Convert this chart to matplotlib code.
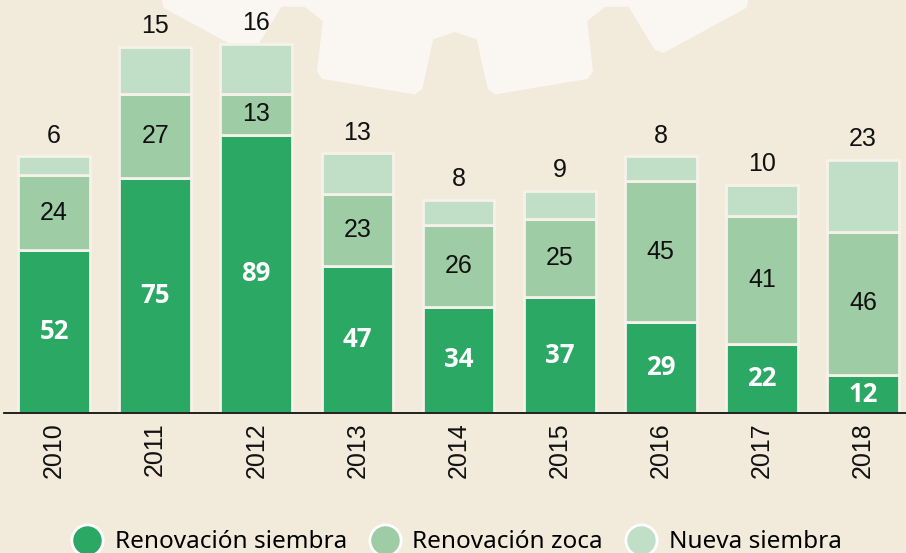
import numpy as np
import matplotlib
matplotlib.use("Agg")
import matplotlib.pyplot as plt
from matplotlib.lines import Line2D
from matplotlib.patches import Polygon

years = ["2010", "2011", "2012", "2013", "2014", "2015", "2016", "2017", "2018"]
renov_siembra = [52, 75, 89, 47, 34, 37, 29, 22, 12]
renov_zoca = [24, 27, 13, 23, 26, 25, 45, 41, 46]
nueva_siembra = [6, 15, 16, 13, 8, 9, 8, 10, 23]

series_names = ["Renovación siembra", "Renovación zoca", "Nueva siembra"]
colors = ["#2aa864", "#9ecca4", "#c1dfc6"]
BG = "#f2eadb"
W, H = 906, 553

fig = plt.figure(figsize=(W / 100, H / 100), dpi=100, facecolor=BG)

# faint gear decoration in the background
cx, cy = 455, -430
r_in, r_out = 462, 526
pitch = np.deg2rad(19)
pts = []
for k in range(-10, 11):
    c = np.pi / 2 + (k + 0.5) * pitch
    for a, r in [(c - 0.5 * pitch, r_in), (c - 0.36 * pitch, r_in + 8),
                 (c - 0.31 * pitch, r_out - 6), (c - 0.27 * pitch, r_out),
                 (c + 0.27 * pitch, r_out), (c + 0.31 * pitch, r_out - 6),
                 (c + 0.36 * pitch, r_in + 8)]:
        pts.append((cx + r * np.cos(a), cy + r * np.sin(a)))
pts = [(px / W, 1 - py / H) for px, py in pts]
fig.patches.append(Polygon(pts, closed=True, transform=fig.transFigure,
                           facecolor="#faf6f1", edgecolor="none", zorder=0))

ax = fig.add_axes([4 / W, 140 / H, (W - 4) / W, 413 / H])
ax.set_facecolor("none")
ax.set_zorder(2)

x = np.arange(len(years))
bw = 0.71
edge = "#f6f2ea"
ax.bar(x, renov_siembra, bw, color=colors[0], edgecolor=edge, linewidth=2)
ax.bar(x, renov_zoca, bw, bottom=renov_siembra, color=colors[1],
       edgecolor=edge, linewidth=2)
bottom3 = np.array(renov_siembra) + np.array(renov_zoca)
ax.bar(x, nueva_siembra, bw, bottom=bottom3, color=colors[2],
       edgecolor=edge, linewidth=2)

num_font = "Liberation Sans"
for i in range(len(years)):
    ax.text(x[i], renov_siembra[i] / 2, str(renov_siembra[i]), ha="center",
            va="center", color="white", fontsize=18.5, fontweight="bold",
            family="Open Sans")
    ax.text(x[i], renov_siembra[i] + renov_zoca[i] / 2, str(renov_zoca[i]),
            ha="center", va="center", color="#111111", fontsize=18,
            family=num_font)
    ax.text(x[i], bottom3[i] + nueva_siembra[i] + 2.8, str(nueva_siembra[i]),
            ha="center", va="bottom", color="#111111", fontsize=18,
            family=num_font)

ax.set_xlim(-0.495, 8.425)
ax.set_ylim(0, 132)
ax.set_xticks(x)
ax.set_xticklabels(years, rotation=90, fontsize=18, family=num_font,
                   color="#111111")
ax.tick_params(axis="x", length=0, pad=7)
ax.set_yticks([])
for s in ["top", "right", "left"]:
    ax.spines[s].set_visible(False)
ax.spines["bottom"].set_color("#111111")
ax.spines["bottom"].set_linewidth(1.3)

handles = [Line2D([], [], marker="o", ls="", markersize=22.5,
                  markerfacecolor=c, markeredgecolor="white",
                  markeredgewidth=2) for c in colors]
fig.legend(handles, series_names, loc="center", bbox_to_anchor=(455 / W, 0.019),
           ncol=3, frameon=False, handlelength=1.5, handletextpad=0.4,
           columnspacing=0.8, prop={"family": "Noto Sans", "size": 17.5})

fig.savefig("out.png", dpi=100, facecolor=BG)
